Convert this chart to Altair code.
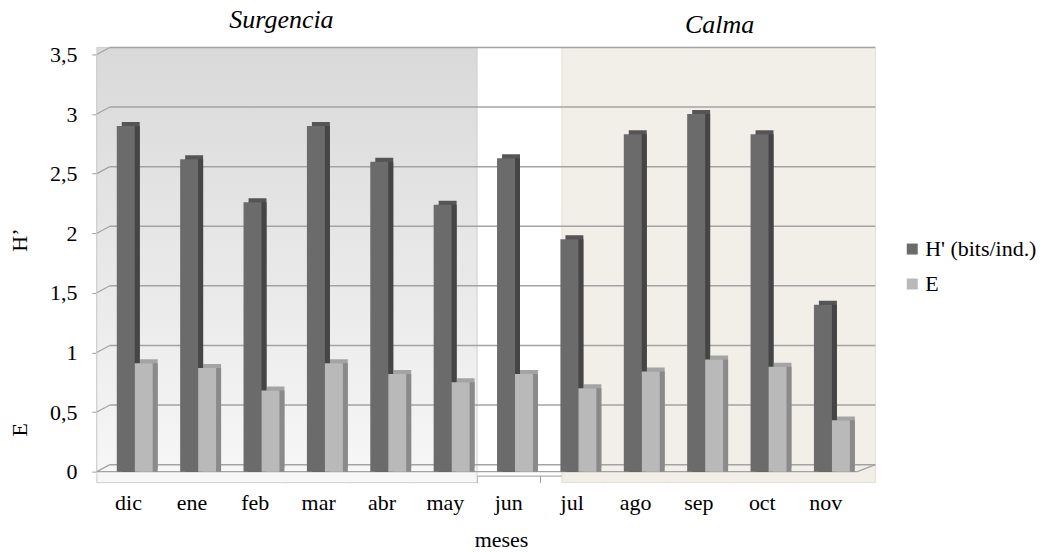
import altair as alt
import pandas as pd

# ---- data ----
months = ["dic", "ene", "feb", "mar", "abr", "may", "jun", "jul", "ago", "sep", "oct", "nov"]
h_values = [2.90, 2.62, 2.26, 2.90, 2.60, 2.24, 2.63, 1.95, 2.83, 3.00, 2.83, 1.40]
e_values = [0.91, 0.87, 0.68, 0.91, 0.82, 0.75, 0.82, 0.70, 0.84, 0.94, 0.88, 0.43]
series_names = ["H' (bits/ind.)", "E"]
y_ticks = [0, 0.5, 1, 1.5, 2, 2.5, 3, 3.5]
period_names = ["Surgencia", "Calma"]
period_start = ["dic", "jul"]
period_end = ["may", "nov"]
y_titles = ["H’", "E"]

rows = []
for m, h, e in zip(months, h_values, e_values):
    rows.append({"mes": m, "serie": series_names[0], "valor": h})
    rows.append({"mes": m, "serie": series_names[1], "valor": e})
bars_df = pd.DataFrame(rows)
grid_df = pd.DataFrame({"v": y_ticks})
panels_df = pd.DataFrame({"periodo": period_names, "inicio": period_start, "fin": period_end})

FONT = "Liberation Serif"
W, H = 780, 418
BAND_W = 762
DEPTH_X, DEPTH_Y = 13, -7


def xs(shift=0):
    return alt.Scale(domain=months, range=[shift, BAND_W + shift], paddingInner=0, paddingOuter=0)


def ys():
    return alt.Scale(domain=[0, 3.5], nice=False, zero=True)


def xoffs():
    return alt.Scale(domain=series_names, paddingInner=0, paddingOuter=0.764, align=0.727)


is_h = alt.datum.serie == series_names[0]

# background panels
gray_panel = alt.Chart(panels_df).transform_filter(alt.datum.periodo == "Surgencia").mark_rect(
    fill=alt.LinearGradient(
        gradient="linear",
        stops=[alt.GradientStop(color="#d9d9d9", offset=0), alt.GradientStop(color="#f7f7f7", offset=1)],
        x1=0, x2=0, y1=0, y2=1,
    ),
    stroke="#d0d0d0", strokeWidth=1,
).encode(
    x=alt.X("inicio:N", scale=xs(), bandPosition=0, axis=None),
    x2=alt.X2("fin", bandPosition=1),
    y=alt.value(-7),
    y2=alt.value(429),
)

beige_panel = alt.Chart(panels_df).transform_filter(alt.datum.periodo == "Calma").mark_rect(
    fill="#f2efe8", stroke="#e2ded5", strokeWidth=1,
).encode(
    x=alt.X("inicio:N", scale=xs(), bandPosition=0.34, axis=None),
    x2=alt.value(W),
    y=alt.value(-7),
    y2=alt.value(429),
)

# back-wall gridlines
grid = alt.Chart(grid_df).mark_rule(color="#a3a3a3", strokeWidth=1.5, yOffset=DEPTH_Y).encode(
    y=alt.Y("v:Q", scale=ys(), axis=None),
    x=alt.value(DEPTH_X),
    x2=alt.value(W),
)
diag = alt.Chart(grid_df).mark_rule(color="#a3a3a3", strokeWidth=1.2, y2Offset=DEPTH_Y).encode(
    y=alt.Y("v:Q", scale=ys(), axis=None),
    y2=alt.Y2("v"),
    x=alt.value(0),
    x2=alt.value(DEPTH_X),
)
floor_front = alt.Chart(grid_df).transform_filter(alt.datum.v == 0).mark_rule(
    color="#a3a3a3", strokeWidth=1.2
).encode(
    y=alt.Y("v:Q", scale=ys(), axis=None),
    x=alt.value(0),
    x2=alt.value(BAND_W),
)
floor_right = alt.Chart(grid_df).transform_filter(alt.datum.v == 0).mark_rule(
    color="#a3a3a3", strokeWidth=1.2, y2Offset=DEPTH_Y
).encode(
    y=alt.Y("v:Q", scale=ys(), axis=None),
    y2=alt.Y2("v"),
    x=alt.value(BAND_W),
    x2=alt.value(W),
)

base = alt.Chart(bars_df)

bar_top = base.mark_bar(yOffset=-4, y2Offset=-4).encode(
    x=alt.X("mes:N", scale=xs(5), sort=months, axis=None),
    xOffset=alt.XOffset("serie:N", scale=xoffs(), sort=series_names),
    y=alt.Y("valor:Q", scale=ys(), axis=None),
    color=alt.condition(is_h, alt.value("#555555"), alt.value("#a4a4a4")),
)
bar_side = base.mark_bar().encode(
    x=alt.X("mes:N", scale=xs(5), sort=months, axis=None),
    xOffset=alt.XOffset("serie:N", scale=xoffs(), sort=series_names),
    y=alt.Y("valor:Q", scale=ys(), axis=None),
    color=alt.condition(is_h, alt.value("#454545"), alt.value("#8a8a8a")),
)
bar_front = base.mark_bar().encode(
    x=alt.X(
        "mes:N", scale=xs(), sort=months,
        axis=alt.Axis(
            title="meses", titleFont=FONT, titleFontSize=22, titleFontWeight="normal",
            titleColor="black", titleX=405, titleY=71, titleBaseline="alphabetic",
            labelAngle=0, labelFont=FONT, labelFontSize=22, labelColor="black",
            labelBaseline="alphabetic", labelPadding=27,
            tickSize=7, tickColor="#9a9a9a", domainColor="#9a9a9a", bandPosition=0,
            offset=4, grid=False,
        ),
    ),
    xOffset=alt.XOffset("serie:N", scale=xoffs(), sort=series_names),
    y=alt.Y(
        "valor:Q", scale=ys(),
        axis=alt.Axis(
            title=None, values=y_ticks, grid=False,
            labelExpr="replace(format(datum.value, '~g'), '.', ',')",
            labelFont=FONT, labelFontSize=22, labelColor="black", labelPadding=15,
            tickSize=5, tickColor="#9a9a9a", domainColor="#b5b5b5", domainWidth=2,
        ),
    ),
    color=alt.Color(
        "serie:N", sort=series_names,
        scale=alt.Scale(domain=series_names, range=["#6b6b6b", "#b9b9b9"]),
        legend=alt.Legend(
            title=None, orient="none", legendX=806, legendY=184,
            symbolType="square", symbolSize=121, symbolStrokeWidth=0,
            labelFont=FONT, labelFontSize=22, labelColor="black",
            rowPadding=13, labelOffset=2, padding=0,
        ),
    ),
)

# panel titles
surg_title = alt.Chart(panels_df).transform_filter(alt.datum.periodo == "Surgencia").mark_text(
    font=FONT, fontSize=26, fontStyle="italic", align="center", baseline="alphabetic", color="black"
).encode(text="periodo:N", x=alt.value(185), y=alt.value(-26))
calma_title = alt.Chart(panels_df).transform_filter(alt.datum.periodo == "Calma").mark_text(
    font=FONT, fontSize=26, fontStyle="italic", align="center", baseline="alphabetic", color="black"
).encode(text="periodo:N", x=alt.value(624), y=alt.value(-21))

# y-axis titles
yt_df = pd.DataFrame({"t": y_titles})
h_title = alt.Chart(yt_df).transform_filter(alt.datum.t == y_titles[0]).mark_text(
    font=FONT, fontSize=22, angle=270, align="center", baseline="middle", color="black"
).encode(text="t:N", x=alt.value(-77), y=alt.value(186))
e_title = alt.Chart(yt_df).transform_filter(alt.datum.t == y_titles[1]).mark_text(
    font=FONT, fontSize=22, angle=270, align="center", baseline="middle", color="black"
).encode(text="t:N", x=alt.value(-77), y=alt.value(376))

chart = alt.layer(
    gray_panel, beige_panel, grid, diag, floor_front, floor_right,
    bar_top, bar_side, bar_front,
    surg_title, calma_title, h_title, e_title,
).resolve_scale(
    x="independent", y="independent", xOffset="independent"
).properties(
    width=W, height=H,
    autosize=alt.AutoSizeParams(type="none"),
    padding={"left": 89, "top": 46, "right": 167, "bottom": 80},
    background="white",
).configure_view(stroke=None)

chart.save("out.html", embed_options={"renderer": "svg", "actions": False})
